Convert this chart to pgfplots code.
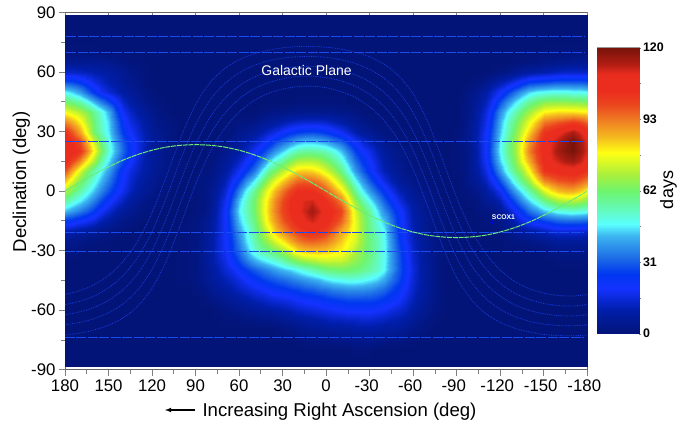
\documentclass[border=0pt]{standalone}
\usepackage{pgfplots}
\usepackage{pgfplotstable}
\pgfplotsset{compat=1.18}
\usepackage{fontspec}
\setmainfont{Liberation Sans}
\pgfplotsset{colormap={heat}{rgb255(0pt)=(3,20,120) rgb255(10pt)=(0,30,170) rgb255(19pt)=(20,50,255) rgb255(25pt)=(0,55,240) rgb255(32pt)=(30,110,230) rgb255(41pt)=(60,180,240) rgb255(46pt)=(90,255,255) rgb255(52pt)=(100,250,190) rgb255(60pt)=(110,245,110) rgb255(67pt)=(170,240,60) rgb255(76pt)=(255,255,20) rgb255(82pt)=(245,190,30) rgb255(89pt)=(240,130,35) rgb255(96pt)=(235,70,30) rgb255(102pt)=(235,45,30) rgb255(109pt)=(232,45,30) rgb255(113pt)=(180,30,20) rgb255(120pt)=(120,20,10)}}
\definecolor{scan}{RGB}{25,75,240}
\definecolor{ecl}{RGB}{110,235,120}
\definecolor{gal}{RGB}{25,60,215}
\pgfplotstableread{
ra b1 b2 b3 b4 b5
180 -52.1 -57.2 -62.3 -67.4 -72.5
170 -50.2 -55.6 -60.9 -66.2 -71.6
160 -47.2 -52.9 -58.6 -64.3 -70.0
150 -42.5 -48.8 -55.1 -61.3 -67.6
140 -35.5 -42.6 -49.7 -56.8 -63.9
130 -25.3 -33.5 -41.7 -49.9 -58.1
120 -10.9 -20.4 -29.9 -39.4 -48.9
110 7.7 -3.0 -13.6 -24.3 -34.9
100 27.4 16.5 5.6 -5.3 -16.2
90 43.6 33.6 23.5 13.5 3.4
80 54.7 45.9 37.2 28.5 19.7
70 61.7 54.1 46.6 39.1 31.5
60 66.2 59.6 53.0 46.4 39.8
50 69.1 63.2 57.3 51.4 45.5
40 71.0 65.6 60.1 54.6 49.2
30 72.2 67.0 61.8 56.6 51.4
20 72.8 67.7 62.7 57.7 52.6
10 72.9 67.9 62.9 57.9 52.9
0 72.5 67.4 62.3 57.2 52.1
-10 71.6 66.2 60.9 55.6 50.2
-20 70.0 64.3 58.6 52.9 47.2
-30 67.6 61.3 55.1 48.8 42.5
-40 63.9 56.8 49.7 42.6 35.5
-50 58.1 49.9 41.7 33.5 25.3
-60 48.9 39.4 29.9 20.4 10.9
-70 34.9 24.3 13.6 3.0 -7.7
-80 16.2 5.3 -5.6 -16.5 -27.4
-90 -3.4 -13.5 -23.5 -33.6 -43.6
-100 -19.7 -28.5 -37.2 -45.9 -54.7
-110 -31.5 -39.1 -46.6 -54.1 -61.7
-120 -39.8 -46.4 -53.0 -59.6 -66.2
-130 -45.5 -51.4 -57.3 -63.2 -69.1
-140 -49.2 -54.6 -60.1 -65.6 -71.0
-150 -51.4 -56.6 -61.8 -67.0 -72.2
-160 -52.6 -57.7 -62.7 -67.7 -72.8
-170 -52.9 -57.9 -62.9 -67.9 -72.9
-180 -52.1 -57.2 -62.3 -67.4 -72.5
}\galactic
\pgfplotstableread{
ra dec
180 0
170 4.3
160 8.4
150 12.2
140 15.6
130 18.4
120 20.6
110 22.2
100 23.1
90 23.4
80 23.1
70 22.2
60 20.6
50 18.4
40 15.6
30 12.2
20 8.4
10 4.3
0 0
-10 -4.3
-20 -8.4
-30 -12.2
-40 -15.6
-50 -18.4
-60 -20.6
-70 -22.2
-80 -23.1
-90 -23.4
-100 -23.1
-110 -22.2
-120 -20.6
-130 -18.4
-140 -15.6
-150 -12.2
-160 -8.4
-170 -4.3
-180 0
}\ecliptic
\begin{document}
\begin{tikzpicture}[x=1pt,y=1pt]
\useasboundingbox (-65,-58.3) rectangle (621,369.7);
\begin{axis}[
  scale only axis, width=522.3pt, height=357.2pt,
  xmin=-180, xmax=180, ymin=-90, ymax=90, x dir=reverse,
  xtick={180,150,120,90,60,30,0,-30,-60,-90,-120,-150,-180},
  xticklabels={180,150,120,90,60,30,0,-30\kern6pt,-60\kern6pt,-90\kern6pt,-120\kern6pt,-150\kern6pt,-180\kern6pt},
  ytick={-90,-60,-30,0,30,60,90},
  yticklabels={-90,-60,-30,0,30,60,90},
  minor x tick num=1, minor y tick num=1,
  xtick pos=bottom, ytick pos=left,
  tick align=outside,
  major tick length=6pt, minor tick length=4pt,
  tick style={draw=gray, line width=0.8pt},
  axis line style={draw=black!60, line width=0.8pt},
  tick label style={font=\fontsize{16.8}{19}\selectfont, text=black},
  xticklabel style={yshift=-1pt},
  colormap name=heat, point meta min=0, point meta max=120,
  clip=true,
]
\addplot[surf, shader=interp, mesh/cols=73, mesh/ordering=x varies, point meta=\thisrowno{0}]
 table[row sep=crcr, header=false,
   x expr={180-5*(\coordindex-73*floor((\coordindex+0.5)/73))},
   y expr={max(min(80-5*floor((\coordindex+0.5)/73)+20*(1-min(floor((\coordindex+0.5)/73),1)),88.6),-88.6)}] {
0\\0\\0\\0\\0\\0\\0\\0\\0\\0\\0\\0\\0\\0\\0\\0\\ 0\\0\\0\\0\\0\\0\\0\\0\\0\\0\\0\\0\\0\\0\\0\\0\\0\\0\\0\\0\\ 0\\0\\0\\0\\0\\0\\0\\0\\0\\0\\0\\0\\0\\0\\0\\0\\0\\0\\0\\0\\ 0\\0\\0\\0\\0\\0\\0\\0\\0\\0\\0\\0\\0\\0\\0\\0\\0\\
0\\0\\0\\0\\0\\0\\0\\0\\0\\0\\0\\0\\0\\0\\0\\0\\ 0\\0\\0\\0\\0\\0\\0\\0\\0\\0\\0\\0\\0\\0\\0\\0\\0\\0\\0\\0\\ 0\\0\\0\\0\\0\\0\\0\\0\\0\\0\\0\\0\\0\\0\\0\\0\\0\\0\\0\\0\\ 0\\0\\0\\0\\0\\0\\0\\0\\0\\0\\0\\0\\0\\0\\0\\0\\0\\
1\\1\\1\\1\\1\\0\\0\\0\\0\\0\\0\\0\\0\\0\\0\\0\\ 0\\0\\0\\0\\0\\0\\0\\0\\0\\0\\0\\0\\0\\0\\0\\0\\0\\0\\0\\0\\ 0\\0\\0\\0\\0\\0\\0\\0\\0\\0\\0\\0\\0\\0\\0\\0\\0\\0\\0\\0\\ 0\\0\\0\\0\\0\\0\\0\\0\\0\\0\\1\\1\\1\\1\\1\\1\\1\\
5\\5\\5\\5\\5\\5\\4\\3\\2\\1\\1\\0\\0\\0\\0\\0\\ 0\\0\\0\\0\\0\\0\\0\\0\\0\\0\\0\\0\\0\\0\\0\\0\\0\\0\\0\\0\\ 0\\0\\0\\0\\0\\0\\0\\0\\0\\0\\0\\0\\0\\0\\0\\0\\0\\0\\0\\0\\ 0\\0\\0\\0\\0\\0\\1\\1\\2\\2\\3\\3\\4\\4\\5\\5\\5\\
13\\13\\12\\11\\10\\9\\8\\7\\5\\3\\2\\1\\0\\0\\0\\0\\ 0\\0\\0\\0\\0\\0\\0\\0\\0\\0\\0\\0\\0\\0\\0\\0\\0\\0\\0\\0\\ 0\\0\\0\\0\\0\\0\\0\\0\\0\\0\\0\\0\\0\\0\\0\\0\\0\\0\\0\\0\\ 0\\0\\0\\1\\2\\3\\5\\7\\8\\9\\10\\11\\12\\13\\13\\13\\13\\
28\\27\\24\\20\\16\\13\\10\\8\\6\\4\\3\\1\\0\\0\\0\\0\\ 0\\0\\0\\0\\0\\0\\0\\0\\0\\0\\0\\0\\0\\0\\0\\0\\0\\0\\0\\0\\ 0\\0\\0\\0\\0\\0\\0\\0\\0\\0\\0\\0\\0\\0\\0\\0\\0\\0\\0\\0\\ 1\\2\\4\\7\\10\\13\\17\\21\\25\\26\\27\\28\\29\\29\\29\\29\\28\\
46\\43\\38\\31\\24\\18\\14\\11\\8\\6\\4\\2\\1\\0\\0\\0\\ 0\\0\\0\\0\\0\\0\\0\\0\\0\\0\\0\\0\\0\\0\\0\\0\\0\\0\\0\\0\\ 0\\0\\0\\0\\0\\0\\0\\0\\0\\0\\0\\0\\0\\0\\0\\0\\0\\0\\0\\1\\ 3\\5\\9\\14\\19\\25\\32\\38\\43\\46\\47\\48\\48\\48\\47\\47\\46\\
61\\58\\54\\48\\41\\34\\27\\20\\13\\9\\6\\4\\2\\1\\0\\0\\ 0\\0\\0\\0\\0\\0\\0\\0\\0\\0\\0\\0\\0\\0\\0\\0\\1\\1\\1\\1\\ 1\\1\\1\\0\\0\\0\\0\\0\\0\\0\\0\\0\\0\\0\\0\\0\\0\\0\\0\\2\\ 4\\7\\12\\19\\28\\36\\44\\50\\56\\60\\63\\64\\64\\64\\63\\63\\62\\
75\\72\\68\\63\\56\\49\\40\\28\\18\\13\\9\\6\\4\\2\\1\\0\\ 0\\0\\0\\0\\0\\0\\0\\0\\0\\0\\0\\1\\2\\3\\3\\4\\4\\4\\4\\4\\ 4\\4\\3\\3\\2\\1\\0\\0\\0\\0\\0\\0\\0\\0\\0\\0\\0\\0\\0\\2\\ 4\\9\\15\\25\\36\\45\\53\\60\\66\\72\\77\\78\\79\\79\\79\\78\\77\\
89\\84\\77\\68\\59\\51\\43\\32\\22\\16\\12\\8\\5\\3\\2\\1\\ 0\\0\\0\\0\\0\\0\\0\\1\\2\\2\\3\\5\\7\\8\\10\\12\\13\\14\\14\\14\\ 13\\11\\9\\7\\5\\3\\2\\1\\1\\0\\0\\0\\0\\0\\0\\0\\0\\0\\0\\2\\ 5\\10\\17\\28\\40\\50\\59\\67\\74\\82\\90\\92\\94\\96\\98\\96\\92\\
101\\94\\85\\73\\60\\52\\44\\34\\25\\19\\14\\10\\6\\4\\3\\1\\ 0\\0\\0\\0\\0\\0\\1\\2\\4\\5\\7\\10\\13\\16\\20\\23\\25\\26\\27\\26\\ 24\\21\\18\\14\\10\\7\\5\\3\\2\\1\\0\\0\\0\\0\\0\\0\\0\\0\\1\\3\\ 6\\11\\19\\30\\42\\52\\62\\71\\80\\90\\100\\103\\107\\111\\114\\110\\104\\
107\\102\\95\\83\\70\\58\\47\\38\\29\\22\\16\\11\\7\\5\\3\\1\\ 0\\0\\0\\0\\0\\1\\2\\4\\6\\9\\12\\16\\21\\26\\31\\35\\39\\41\\41\\40\\ 38\\34\\30\\24\\18\\14\\10\\7\\4\\2\\1\\0\\0\\0\\0\\0\\0\\0\\1\\3\\ 6\\12\\20\\32\\45\\55\\65\\76\\86\\95\\104\\109\\113\\117\\120\\115\\109\\
108\\105\\100\\89\\76\\62\\49\\40\\31\\23\\16\\11\\7\\5\\3\\2\\ 1\\0\\0\\0\\1\\2\\4\\6\\9\\13\\18\\24\\30\\37\\43\\49\\53\\55\\55\\54\\ 52\\48\\42\\34\\26\\20\\16\\11\\7\\5\\3\\2\\1\\0\\0\\0\\0\\0\\1\\2\\ 5\\11\\20\\33\\46\\56\\65\\77\\89\\98\\104\\110\\115\\118\\120\\116\\110\\
104\\97\\88\\77\\67\\55\\44\\35\\27\\20\\14\\10\\7\\5\\3\\2\\ 1\\0\\0\\0\\1\\3\\6\\9\\13\\19\\25\\33\\42\\49\\56\\62\\67\\68\\68\\66\\ 62\\57\\50\\41\\32\\25\\19\\14\\9\\6\\4\\2\\1\\0\\0\\0\\0\\0\\1\\2\\ 5\\11\\19\\31\\43\\53\\63\\74\\84\\95\\104\\108\\111\\114\\115\\112\\107\\
95\\84\\72\\62\\54\\46\\38\\29\\21\\16\\12\\9\\6\\4\\2\\1\\ 1\\0\\0\\1\\2\\4\\8\\13\\18\\25\\33\\44\\55\\62\\69\\75\\80\\81\\80\\77\\ 72\\66\\58\\48\\38\\30\\22\\16\\11\\8\\5\\3\\2\\1\\0\\0\\0\\0\\1\\2\\ 5\\9\\16\\26\\37\\48\\58\\66\\76\\89\\100\\102\\104\\105\\106\\104\\100\\
82\\72\\62\\55\\48\\41\\33\\26\\19\\14\\10\\7\\5\\3\\2\\1\\ 0\\0\\1\\2\\3\\6\\11\\18\\26\\36\\45\\56\\66\\74\\81\\87\\92\\93\\92\\89\\ 84\\77\\68\\58\\47\\38\\29\\22\\16\\11\\7\\5\\3\\2\\1\\0\\0\\0\\0\\2\\ 4\\7\\12\\19\\28\\38\\49\\58\\66\\78\\88\\91\\94\\95\\96\\93\\89\\
68\\61\\54\\48\\42\\35\\28\\22\\17\\12\\8\\6\\4\\2\\1\\0\\ 0\\0\\1\\2\\4\\8\\14\\24\\35\\46\\56\\66\\75\\83\\91\\97\\102\\103\\102\\99\\ 94\\87\\79\\68\\56\\46\\37\\30\\23\\17\\11\\8\\5\\3\\2\\1\\0\\0\\0\\1\\ 2\\4\\8\\12\\18\\28\\38\\46\\54\\63\\72\\78\\82\\84\\84\\81\\76\\
55\\50\\45\\40\\34\\27\\21\\16\\12\\8\\5\\3\\2\\1\\0\\0\\ 0\\0\\1\\2\\4\\10\\17\\29\\42\\51\\60\\70\\79\\88\\96\\102\\107\\110\\111\\107\\ 102\\97\\90\\78\\65\\55\\46\\38\\30\\23\\16\\11\\7\\5\\3\\1\\0\\0\\0\\0\\ 1\\2\\5\\7\\11\\19\\28\\36\\43\\50\\57\\62\\66\\68\\68\\66\\63\\
42\\38\\34\\30\\25\\19\\14\\10\\7\\5\\3\\2\\1\\0\\0\\0\\ 0\\0\\1\\2\\5\\11\\19\\32\\45\\52\\60\\70\\80\\89\\97\\102\\107\\111\\115\\111\\ 106\\102\\97\\85\\72\\63\\54\\45\\36\\29\\21\\15\\9\\6\\3\\2\\1\\0\\0\\0\\ 0\\1\\2\\3\\6\\11\\18\\25\\32\\37\\42\\45\\48\\49\\50\\49\\48\\
25\\23\\20\\18\\15\\11\\8\\5\\3\\2\\1\\0\\0\\0\\0\\0\\ 0\\1\\2\\4\\6\\12\\19\\30\\42\\50\\58\\68\\78\\86\\94\\99\\104\\108\\111\\108\\ 104\\99\\93\\84\\74\\65\\56\\49\\42\\33\\23\\16\\10\\7\\4\\2\\1\\0\\0\\0\\ 0\\0\\1\\2\\3\\6\\11\\16\\20\\23\\26\\28\\30\\31\\31\\31\\30\\
11\\10\\8\\7\\6\\4\\3\\2\\1\\0\\0\\0\\0\\0\\0\\0\\ 1\\1\\2\\4\\7\\12\\19\\28\\38\\46\\55\\64\\73\\81\\88\\93\\97\\100\\102\\101\\ 98\\92\\85\\80\\74\\65\\57\\52\\46\\35\\24\\17\\11\\7\\4\\2\\1\\0\\0\\0\\ 0\\0\\0\\1\\2\\3\\5\\7\\9\\10\\12\\14\\15\\15\\15\\15\\14\\
5\\4\\3\\2\\2\\1\\1\\0\\0\\0\\0\\0\\0\\0\\0\\0\\ 1\\1\\2\\5\\8\\13\\19\\26\\35\\44\\53\\60\\66\\72\\78\\84\\89\\92\\93\\92\\ 90\\86\\81\\76\\72\\65\\58\\53\\47\\37\\26\\18\\12\\8\\5\\3\\1\\0\\0\\0\\ 0\\0\\0\\0\\0\\1\\2\\2\\3\\4\\5\\6\\7\\7\\7\\7\\7\\
2\\2\\1\\0\\0\\0\\0\\0\\0\\0\\0\\0\\0\\0\\0\\0\\ 1\\1\\2\\5\\8\\13\\18\\25\\32\\40\\49\\54\\57\\61\\66\\72\\78\\81\\82\\82\\ 81\\79\\77\\73\\68\\63\\58\\53\\47\\38\\28\\20\\13\\9\\5\\3\\1\\0\\0\\0\\ 0\\0\\0\\0\\0\\0\\0\\0\\0\\0\\1\\2\\3\\3\\3\\3\\3\\
0\\0\\0\\0\\0\\0\\0\\0\\0\\0\\0\\0\\0\\0\\0\\0\\ 1\\1\\2\\5\\8\\12\\16\\21\\27\\33\\39\\43\\46\\49\\53\\58\\62\\65\\67\\69\\ 70\\70\\70\\67\\64\\61\\57\\52\\47\\38\\29\\21\\14\\10\\6\\3\\1\\0\\0\\0\\ 0\\0\\0\\0\\0\\0\\0\\0\\0\\0\\0\\0\\1\\1\\1\\1\\1\\
0\\0\\0\\0\\0\\0\\0\\0\\0\\0\\0\\0\\0\\0\\0\\0\\ 1\\1\\2\\4\\7\\10\\14\\17\\21\\25\\29\\32\\35\\38\\41\\43\\46\\49\\52\\55\\ 58\\59\\60\\60\\59\\57\\54\\51\\46\\38\\29\\22\\15\\10\\6\\3\\1\\0\\0\\0\\ 0\\0\\0\\0\\0\\0\\0\\0\\0\\0\\0\\0\\0\\0\\0\\0\\0\\
0\\0\\0\\0\\0\\0\\0\\0\\0\\0\\0\\0\\0\\0\\0\\0\\ 1\\1\\2\\4\\6\\8\\11\\13\\16\\19\\22\\25\\27\\29\\31\\33\\35\\37\\39\\41\\ 44\\46\\47\\48\\48\\47\\45\\43\\39\\33\\27\\20\\14\\10\\6\\3\\1\\0\\0\\0\\ 0\\0\\0\\0\\0\\0\\0\\0\\0\\0\\0\\0\\0\\0\\0\\0\\0\\
0\\0\\0\\0\\0\\0\\0\\0\\0\\0\\0\\0\\0\\0\\0\\0\\ 0\\0\\1\\2\\4\\6\\8\\10\\12\\14\\16\\18\\20\\22\\23\\25\\26\\28\\29\\31\\ 32\\34\\35\\36\\36\\36\\35\\33\\31\\27\\23\\18\\13\\9\\6\\3\\1\\0\\0\\0\\ 0\\0\\0\\0\\0\\0\\0\\0\\0\\0\\0\\0\\0\\0\\0\\0\\0\\
0\\0\\0\\0\\0\\0\\0\\0\\0\\0\\0\\0\\0\\0\\0\\0\\ 0\\0\\0\\1\\2\\3\\5\\6\\8\\9\\11\\12\\14\\15\\16\\17\\19\\20\\21\\22\\ 24\\25\\26\\27\\27\\27\\27\\26\\24\\22\\19\\15\\11\\8\\5\\3\\1\\0\\0\\0\\ 0\\0\\0\\0\\0\\0\\0\\0\\0\\0\\0\\0\\0\\0\\0\\0\\0\\
0\\0\\0\\0\\0\\0\\0\\0\\0\\0\\0\\0\\0\\0\\0\\0\\ 0\\0\\0\\0\\0\\1\\2\\3\\4\\5\\6\\7\\8\\9\\10\\11\\13\\14\\15\\16\\ 17\\18\\19\\20\\20\\20\\20\\19\\18\\16\\14\\12\\9\\6\\4\\2\\1\\0\\0\\0\\ 0\\0\\0\\0\\0\\0\\0\\0\\0\\0\\0\\0\\0\\0\\0\\0\\0\\
0\\0\\0\\0\\0\\0\\0\\0\\0\\0\\0\\0\\0\\0\\0\\0\\ 0\\0\\0\\0\\0\\0\\1\\1\\1\\2\\2\\3\\3\\4\\5\\6\\7\\8\\9\\10\\ 11\\12\\12\\13\\13\\14\\14\\13\\12\\11\\10\\8\\6\\4\\2\\1\\0\\0\\0\\0\\ 0\\0\\0\\0\\0\\0\\0\\0\\0\\0\\0\\0\\0\\0\\0\\0\\0\\
0\\0\\0\\0\\0\\0\\0\\0\\0\\0\\0\\0\\0\\0\\0\\0\\ 0\\0\\0\\0\\0\\0\\0\\0\\0\\0\\0\\0\\0\\0\\1\\2\\3\\4\\5\\5\\ 6\\6\\7\\7\\8\\8\\8\\8\\7\\7\\6\\5\\3\\2\\1\\0\\0\\0\\0\\0\\ 0\\0\\0\\0\\0\\0\\0\\0\\0\\0\\0\\0\\0\\0\\0\\0\\0\\
0\\0\\0\\0\\0\\0\\0\\0\\0\\0\\0\\0\\0\\0\\0\\0\\ 0\\0\\0\\0\\0\\0\\0\\0\\0\\0\\0\\0\\0\\0\\0\\0\\1\\1\\2\\2\\ 2\\3\\3\\3\\4\\4\\4\\3\\3\\2\\2\\1\\1\\0\\0\\0\\0\\0\\0\\0\\ 0\\0\\0\\0\\0\\0\\0\\0\\0\\0\\0\\0\\0\\0\\0\\0\\0\\
0\\0\\0\\0\\0\\0\\0\\0\\0\\0\\0\\0\\0\\0\\0\\0\\ 0\\0\\0\\0\\0\\0\\0\\0\\0\\0\\0\\0\\0\\0\\0\\0\\0\\0\\0\\0\\ 0\\0\\0\\0\\1\\1\\1\\0\\0\\0\\0\\0\\0\\0\\0\\0\\0\\0\\0\\0\\ 0\\0\\0\\0\\0\\0\\0\\0\\0\\0\\0\\0\\0\\0\\0\\0\\0\\
0\\0\\0\\0\\0\\0\\0\\0\\0\\0\\0\\0\\0\\0\\0\\0\\ 0\\0\\0\\0\\0\\0\\0\\0\\0\\0\\0\\0\\0\\0\\0\\0\\0\\0\\0\\0\\ 0\\0\\0\\0\\0\\0\\0\\0\\0\\0\\0\\0\\0\\0\\0\\0\\0\\0\\0\\0\\ 0\\0\\0\\0\\0\\0\\0\\0\\0\\0\\0\\0\\0\\0\\0\\0\\0\\
0\\0\\0\\0\\0\\0\\0\\0\\0\\0\\0\\0\\0\\0\\0\\0\\ 0\\0\\0\\0\\0\\0\\0\\0\\0\\0\\0\\0\\0\\0\\0\\0\\0\\0\\0\\0\\ 0\\0\\0\\0\\0\\0\\0\\0\\0\\0\\0\\0\\0\\0\\0\\0\\0\\0\\0\\0\\ 0\\0\\0\\0\\0\\0\\0\\0\\0\\0\\0\\0\\0\\0\\0\\0\\0\\
};
\addplot[gal, densely dotted, line width=0.8pt, smooth] table[x=ra,y=b1] {\galactic};
\addplot[gal, densely dotted, line width=0.8pt, smooth] table[x=ra,y=b2] {\galactic};
\addplot[gal, densely dotted, line width=0.8pt, smooth] table[x=ra,y=b3] {\galactic};
\addplot[gal, densely dotted, line width=0.8pt, smooth] table[x=ra,y=b4] {\galactic};
\addplot[gal, densely dotted, line width=0.8pt, smooth] table[x=ra,y=b5] {\galactic};
\addplot[scan, line width=1.1pt, dash pattern=on 10pt off 1.5pt] coordinates {(179,78) (-178,78)};
\addplot[scan, line width=1.1pt, dash pattern=on 10pt off 1.5pt] coordinates {(179,70) (-178,70)};
\addplot[scan, line width=1.1pt, dash pattern=on 10pt off 1.5pt] coordinates {(180,25) (-178,25)};
\addplot[scan, line width=1.1pt, dash pattern=on 10pt off 1.5pt] coordinates {(180,-21) (-178,-21)};
\addplot[scan, line width=1.1pt, dash pattern=on 10pt off 1.5pt] coordinates {(180,-30.4) (-178,-30.4)};
\addplot[scan, line width=1.1pt, dash pattern=on 10pt off 1.5pt] coordinates {(180,-74) (-178,-74)};
\addplot[ecl, line width=1pt, smooth, dash pattern=on 5pt off 0.8pt] table[x=ra,y=dec] {\ecliptic};
\addplot[only marks, mark=o, mark size=1.6pt, mark options={draw=blue,line width=0.6pt}] coordinates {(-114.5,-15.6)};
\end{axis}
\begin{axis}[
  scale only axis, width=522.3pt, height=357.2pt,
  xmin=-180, xmax=180, ymin=-90, ymax=90, x dir=reverse,
  axis x line*=top, axis y line=none,
  xtick={180,150,120,90,60,30,0,-30,-60,-90,-120,-150,-180},
  xticklabels={}, tick align=inside, major tick length=3pt,
  tick style={draw=gray, line width=0.8pt},
  axis line style={draw=black!60, line width=0.8pt, -},
]
\end{axis}
\begin{axis}[
  at={(532.3pt,36pt)}, anchor=south west,
  scale only axis, width=41.7pt, height=286pt,
  xmin=0, xmax=1, ymin=0, ymax=120,
  xtick=\empty,
  ytick={0,30,60,90,120}, yticklabels={0,31,62,93,120},
  minor y tick num=1,
  ytick pos=right, yticklabel pos=right,
  tick align=outside, major tick length=1.5pt, minor tick length=2pt,
  tick style={draw=gray},
  axis line style={draw=gray!80, line width=1pt},
  yticklabel style={font=\fontsize{12.4}{14}\bfseries\selectfont, xshift=-1pt},
  colormap name=heat, point meta min=0, point meta max=120,
]
\addplot[surf, shader=interp, mesh/cols=2, mesh/ordering=x varies, point meta=y] coordinates {
(0,0) (1,0) (0,30) (1,30) (0,60) (1,60) (0,90) (1,90) (0,120) (1,120)};
\end{axis}
\node[white, font=\fontsize{14}{16}\selectfont] at (241.5,298.7) {Galactic Plane};
\node[white, font=\fontsize{6.8}{8}\bfseries\selectfont] at (438.5,152.7) {SCOX1};
\node[anchor=base, font=\fontsize{18.6}{21}\selectfont] at (274.5,-46.6) {Increasing Right Ascension (deg)};
\draw[black, line width=1.1pt, -latex] (130,-40.3) -- (100,-40.3);
\node[anchor=base, rotate=90, font=\fontsize{18.6}{21}\selectfont] at (-39,187.7) {Declination (deg)};
\node[anchor=base, rotate=90, font=\fontsize{18}{21}\selectfont] at (608,179.7) {days};
\end{tikzpicture}
\end{document}
